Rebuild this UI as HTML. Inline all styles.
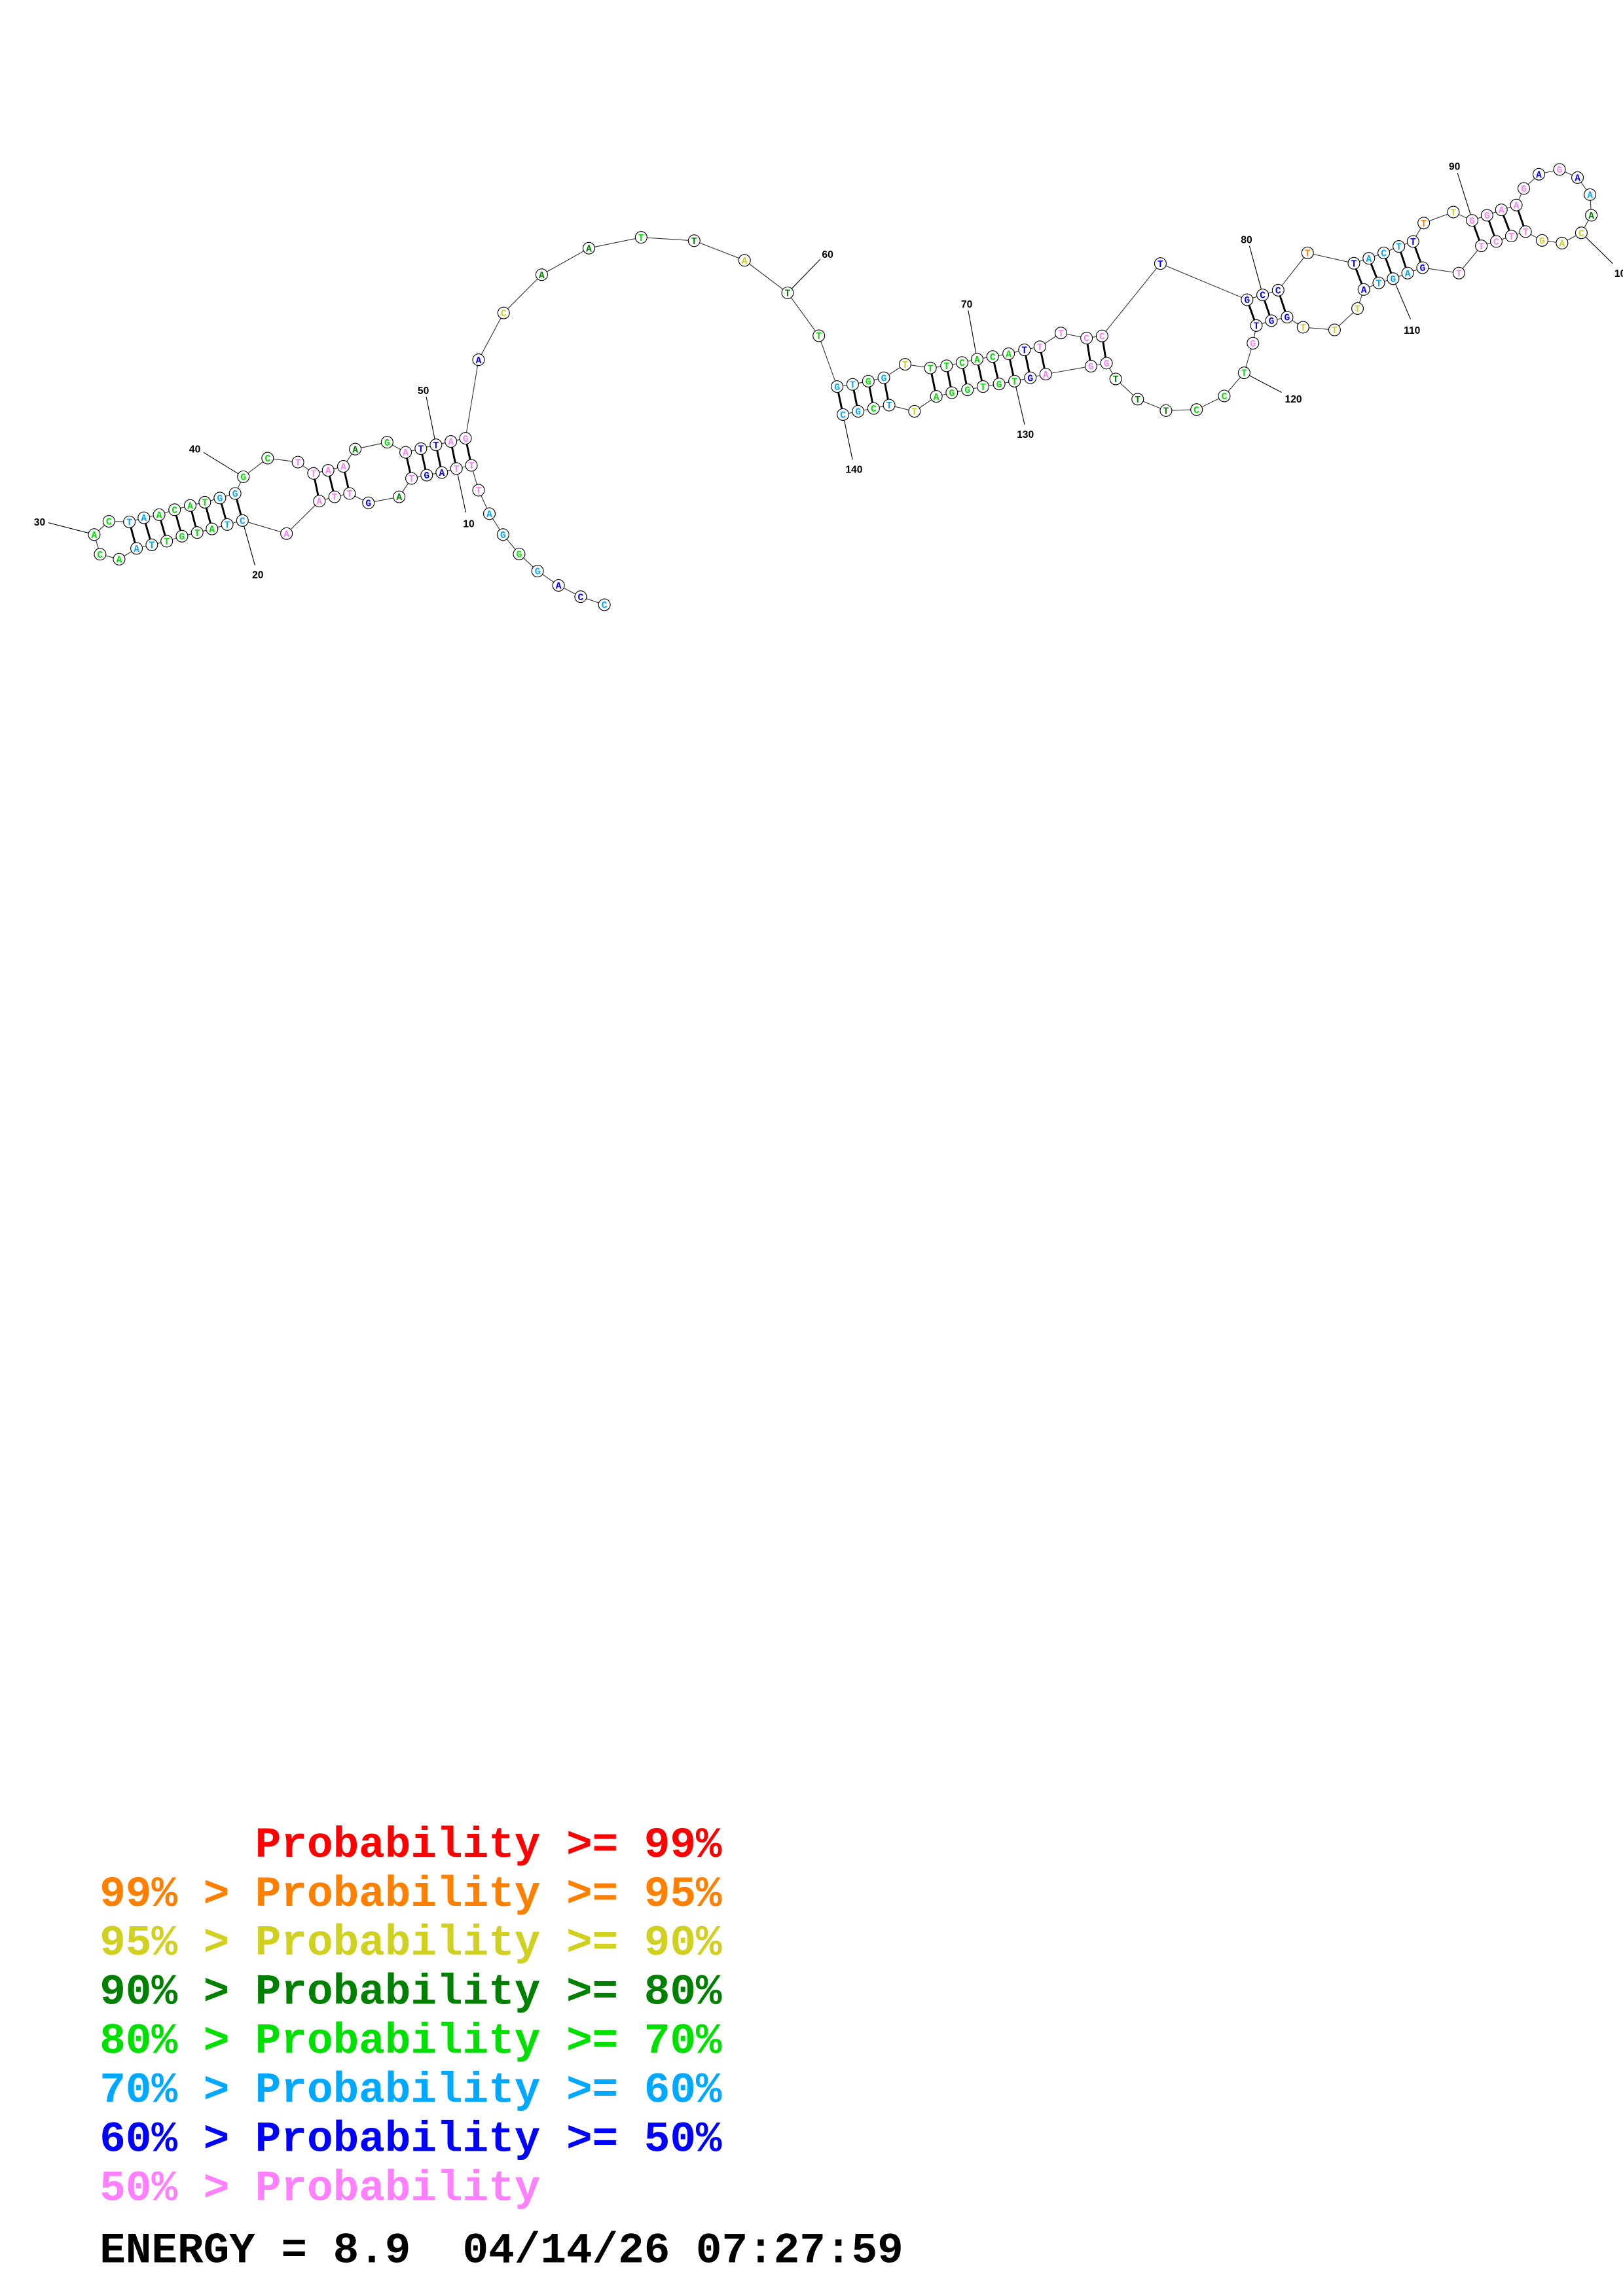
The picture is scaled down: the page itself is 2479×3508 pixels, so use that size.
<!DOCTYPE html>
<html><head><meta charset="utf-8"><style>
html,body{margin:0;padding:0;background:#fff;width:2479px;height:3508px;overflow:hidden}
svg{display:block}
.n circle{fill:#fff;stroke:#000;stroke-width:.5}
.n text{font-family:"Liberation Mono",monospace;font-weight:bold;font-size:6.5px;text-anchor:middle}
.bb{fill:none;stroke:#333;stroke-width:.5}
.pr line{stroke:#000;stroke-width:1.3}
.lb line{stroke:#000;stroke-width:.5}
.lb text{font-family:"Liberation Sans",sans-serif;font-weight:bold;font-size:7px;text-anchor:middle}
.r{fill:#ff0000}.o{fill:#ff8000}.y{fill:#d0d020}.d{fill:#008000}.g{fill:#00e000}.c{fill:#00a8ff}.b{fill:#0000ff}.p{fill:#ff80ff}
.lg{font-family:"Liberation Mono",monospace;font-weight:bold;font-size:29.5px;white-space:pre}
</style></head><body>
<svg width="2479" height="3508" viewBox="0 0 1108 1568" xmlns="http://www.w3.org/2000/svg">
<polyline class="bb" points="412.6,413 396.4,407.5 381.3,399.8 367,390 354.4,378.3 343.4,365.1 334.1,350.8 326.7,334.8 321.8,317.8 311.6,320 301.6,322.7 291.3,324.5 280.9,326.7 272.5,339.3 251.5,343.4 238.6,337 228.4,339.3 218,342.2 195.6,364.4 165.5,355.5 155.1,358.2 144.7,361.2 134.6,363.7 124.2,366.2 113.8,369.6 103.6,372.1 93.2,374.5 81.3,381.9 68.3,378.5 64.3,365.1 74.3,356 88.3,356.4 98.2,353.6 108.6,351.5 119.2,348.1 129.8,345.2 139.8,343 150.1,340.1 160.5,337 166.1,325.6 182.7,312.9 203.4,315.6 214,323.3 224,321.2 234.4,318.5 242.5,306.7 264.3,302 276.9,308.9 287.3,306.4 297.6,303.8 307.8,301.5 317.8,299.3 326.7,245.7 343.8,213.7 369.8,187.6 402,169.5 437.7,162.1 473.9,164.4 508.3,177.8 537.7,200 559,229.3 571.5,264 582.1,262.5 592.8,260.3 603.4,258 617.9,248.8 635.2,251.3 646.2,249.8 656.8,247.6 667.1,245.3 677.7,243.5 688.6,241.6 699.4,238.9 709.9,236.8 724.3,227.4 741.8,230.9 752.4,229.4 792.2,180 851.4,204.7 862,201.4 872.6,198.2 892.7,172.7 924.3,179.8 934.5,176.4 944.7,172.7 955,168.3 964.7,164.9 972,152.3 992.2,144.8 1005,150.5 1015.2,147 1025,143.3 1035.2,140 1040.3,128.7 1050.6,119 1064.7,115.7 1077,121.3 1085.5,132.9 1086.4,147 1079.6,159 1066.4,166 1052.8,164.2 1041.5,158.2 1031.8,161.2 1021.5,164.9 1011.3,167.9 996,186.5 971.2,182.8 961,186.5 951.1,190.3 941.3,193.2 931.1,197.7 926.8,210.7 911.1,225.3 889.6,223.5 878.7,216.6 868,219 857.7,222.3 855.4,234.4 849.4,254.6 835.8,270.4 816.9,279.7 796,280.4 776.7,272.6 761.7,258.8 755.4,248 744.8,250.1 713.9,255.5 703.4,258 692.6,260.3 682.1,262.2 671.1,264 660.5,266.2 649.8,268.2 639.2,270.7 624.3,280.9 607,276.7 596.4,278.9 585.8,280.9 575.5,283.1"/>
<g class="pr">
<line x1="276.9" y1="308.9" x2="280.9" y2="326.7"/><line x1="287.3" y1="306.4" x2="291.3" y2="324.5"/><line x1="297.6" y1="303.8" x2="301.6" y2="322.7"/><line x1="307.8" y1="301.5" x2="311.6" y2="320"/><line x1="317.8" y1="299.3" x2="321.8" y2="317.8"/>
<line x1="214" y1="323.3" x2="218" y2="342.2"/><line x1="224" y1="321.2" x2="228.4" y2="339.3"/><line x1="234.4" y1="318.5" x2="238.6" y2="337"/>
<line x1="88.3" y1="356.4" x2="93.2" y2="374.5"/><line x1="98.2" y1="353.6" x2="103.6" y2="372.1"/><line x1="108.6" y1="351.5" x2="113.8" y2="369.6"/><line x1="119.2" y1="348.1" x2="124.2" y2="366.2"/><line x1="129.8" y1="345.2" x2="134.6" y2="363.7"/><line x1="139.8" y1="343" x2="144.7" y2="361.2"/><line x1="150.1" y1="340.1" x2="155.1" y2="358.2"/><line x1="160.5" y1="337" x2="165.5" y2="355.5"/>
<line x1="571.5" y1="264" x2="575.5" y2="283.1"/><line x1="582.1" y1="262.5" x2="585.8" y2="280.9"/><line x1="592.8" y1="260.3" x2="596.4" y2="278.9"/><line x1="603.4" y1="258" x2="607" y2="276.7"/>
<line x1="635.2" y1="251.3" x2="639.2" y2="270.7"/><line x1="646.2" y1="249.8" x2="649.8" y2="268.2"/><line x1="656.8" y1="247.6" x2="660.5" y2="266.2"/><line x1="667.1" y1="245.3" x2="671.1" y2="264"/><line x1="677.7" y1="243.5" x2="682.1" y2="262.2"/><line x1="688.6" y1="241.6" x2="692.6" y2="260.3"/><line x1="699.4" y1="238.9" x2="703.4" y2="258"/><line x1="709.9" y1="236.8" x2="713.9" y2="255.5"/>
<line x1="741.8" y1="230.9" x2="744.8" y2="250.1"/><line x1="752.4" y1="229.4" x2="755.4" y2="248"/>
<line x1="851.4" y1="204.7" x2="857.7" y2="222.3"/><line x1="862" y1="201.4" x2="868" y2="219"/><line x1="872.6" y1="198.2" x2="878.7" y2="216.6"/>
<line x1="924.3" y1="179.8" x2="931.1" y2="197.7"/><line x1="934.5" y1="176.4" x2="941.3" y2="193.2"/><line x1="944.7" y1="172.7" x2="951.1" y2="190.3"/><line x1="955" y1="168.3" x2="961" y2="186.5"/><line x1="964.7" y1="164.9" x2="971.2" y2="182.8"/>
<line x1="1005" y1="150.5" x2="1011.3" y2="167.9"/><line x1="1015.2" y1="147" x2="1021.5" y2="164.9"/><line x1="1025" y1="143.3" x2="1031.8" y2="161.2"/><line x1="1035.2" y1="140" x2="1041.5" y2="158.2"/>
</g>
<g class="lb">
<line x1="311.6" y1="320" x2="318" y2="350"/><text x="320" y="360">10</text>
<line x1="165.5" y1="355.5" x2="174" y2="386"/><text x="176" y="395">20</text>
<line x1="64.3" y1="365" x2="33" y2="357"/><text x="27" y="359">30</text>
<line x1="166" y1="325.6" x2="139" y2="309"/><text x="133" y="309">40</text>
<line x1="297.6" y1="303.8" x2="291" y2="271"/><text x="289" y="269">50</text>
<line x1="537.7" y1="200" x2="560" y2="177"/><text x="565" y="176">60</text>
<line x1="667" y1="245" x2="661" y2="212"/><text x="660" y="210">70</text>
<line x1="862" y1="201" x2="853" y2="168"/><text x="851" y="166">80</text>
<line x1="1005" y1="150" x2="995" y2="118"/><text x="993" y="116">90</text>
<line x1="1079.6" y1="159" x2="1101" y2="180"/><text x="1108" y="189">100</text>
<line x1="951" y1="190" x2="963" y2="218"/><text x="964" y="228">110</text>
<line x1="849.4" y1="254.6" x2="875" y2="268"/><text x="883" y="275">120</text>
<line x1="692.6" y1="260" x2="699.5" y2="290"/><text x="700" y="299">130</text>
<line x1="575.5" y1="283" x2="582" y2="314"/><text x="583" y="323">140</text>
</g>
<g class="n">
<circle cx="412.6" cy="413" r="4"/><text x="412.6" y="415.3" class="c">C</text>
<circle cx="396.4" cy="407.5" r="4"/><text x="396.4" y="409.8" class="b">C</text>
<circle cx="381.3" cy="399.8" r="4"/><text x="381.3" y="402.1" class="b">A</text>
<circle cx="367" cy="390" r="4"/><text x="367" y="392.3" class="c">G</text>
<circle cx="354.4" cy="378.3" r="4"/><text x="354.4" y="380.6" class="g">G</text>
<circle cx="343.4" cy="365.1" r="4"/><text x="343.4" y="367.4" class="c">G</text>
<circle cx="334.1" cy="350.8" r="4"/><text x="334.1" y="353.1" class="c">A</text>
<circle cx="326.7" cy="334.8" r="4"/><text x="326.7" y="337.1" class="p">T</text>
<circle cx="321.8" cy="317.8" r="4"/><text x="321.8" y="320.1" class="p">T</text>
<circle cx="311.6" cy="320" r="4"/><text x="311.6" y="322.3" class="p">T</text>
<circle cx="301.6" cy="322.7" r="4"/><text x="301.6" y="325" class="b">A</text>
<circle cx="291.3" cy="324.5" r="4"/><text x="291.3" y="326.8" class="b">G</text>
<circle cx="280.9" cy="326.7" r="4"/><text x="280.9" y="329" class="p">T</text>
<circle cx="272.5" cy="339.3" r="4"/><text x="272.5" y="341.6" class="d">A</text>
<circle cx="251.5" cy="343.4" r="4"/><text x="251.5" y="345.7" class="b">G</text>
<circle cx="238.6" cy="337" r="4"/><text x="238.6" y="339.3" class="p">T</text>
<circle cx="228.4" cy="339.3" r="4"/><text x="228.4" y="341.6" class="p">T</text>
<circle cx="218" cy="342.2" r="4"/><text x="218" y="344.5" class="p">A</text>
<circle cx="195.6" cy="364.4" r="4"/><text x="195.6" y="366.7" class="p">A</text>
<circle cx="165.5" cy="355.5" r="4"/><text x="165.5" y="357.8" class="c">C</text>
<circle cx="155.1" cy="358.2" r="4"/><text x="155.1" y="360.5" class="c">T</text>
<circle cx="144.7" cy="361.2" r="4"/><text x="144.7" y="363.5" class="g">A</text>
<circle cx="134.6" cy="363.7" r="4"/><text x="134.6" y="366" class="g">T</text>
<circle cx="124.2" cy="366.2" r="4"/><text x="124.2" y="368.5" class="g">G</text>
<circle cx="113.8" cy="369.6" r="4"/><text x="113.8" y="371.9" class="g">T</text>
<circle cx="103.6" cy="372.1" r="4"/><text x="103.6" y="374.4" class="c">T</text>
<circle cx="93.2" cy="374.5" r="4"/><text x="93.2" y="376.8" class="c">A</text>
<circle cx="81.3" cy="381.9" r="4"/><text x="81.3" y="384.2" class="g">A</text>
<circle cx="68.3" cy="378.5" r="4"/><text x="68.3" y="380.8" class="g">C</text>
<circle cx="64.3" cy="365.1" r="4"/><text x="64.3" y="367.4" class="g">A</text>
<circle cx="74.3" cy="356" r="4"/><text x="74.3" y="358.3" class="g">C</text>
<circle cx="88.3" cy="356.4" r="4"/><text x="88.3" y="358.7" class="c">T</text>
<circle cx="98.2" cy="353.6" r="4"/><text x="98.2" y="355.9" class="c">A</text>
<circle cx="108.6" cy="351.5" r="4"/><text x="108.6" y="353.8" class="g">A</text>
<circle cx="119.2" cy="348.1" r="4"/><text x="119.2" y="350.4" class="g">C</text>
<circle cx="129.8" cy="345.2" r="4"/><text x="129.8" y="347.5" class="g">A</text>
<circle cx="139.8" cy="343" r="4"/><text x="139.8" y="345.3" class="g">T</text>
<circle cx="150.1" cy="340.1" r="4"/><text x="150.1" y="342.4" class="c">G</text>
<circle cx="160.5" cy="337" r="4"/><text x="160.5" y="339.3" class="c">G</text>
<circle cx="166.1" cy="325.6" r="4"/><text x="166.1" y="327.9" class="g">G</text>
<circle cx="182.7" cy="312.9" r="4"/><text x="182.7" y="315.2" class="g">C</text>
<circle cx="203.4" cy="315.6" r="4"/><text x="203.4" y="317.9" class="p">T</text>
<circle cx="214" cy="323.3" r="4"/><text x="214" y="325.6" class="p">T</text>
<circle cx="224" cy="321.2" r="4"/><text x="224" y="323.5" class="p">A</text>
<circle cx="234.4" cy="318.5" r="4"/><text x="234.4" y="320.8" class="p">A</text>
<circle cx="242.5" cy="306.7" r="4"/><text x="242.5" y="309" class="d">A</text>
<circle cx="264.3" cy="302" r="4"/><text x="264.3" y="304.3" class="g">G</text>
<circle cx="276.9" cy="308.9" r="4"/><text x="276.9" y="311.2" class="p">A</text>
<circle cx="287.3" cy="306.4" r="4"/><text x="287.3" y="308.7" class="b">T</text>
<circle cx="297.6" cy="303.8" r="4"/><text x="297.6" y="306.1" class="b">T</text>
<circle cx="307.8" cy="301.5" r="4"/><text x="307.8" y="303.8" class="p">A</text>
<circle cx="317.8" cy="299.3" r="4"/><text x="317.8" y="301.6" class="p">G</text>
<circle cx="326.7" cy="245.7" r="4"/><text x="326.7" y="248" class="b">A</text>
<circle cx="343.8" cy="213.7" r="4"/><text x="343.8" y="216" class="y">C</text>
<circle cx="369.8" cy="187.6" r="4"/><text x="369.8" y="189.9" class="d">A</text>
<circle cx="402" cy="169.5" r="4"/><text x="402" y="171.8" class="d">A</text>
<circle cx="437.7" cy="162.1" r="4"/><text x="437.7" y="164.4" class="g">T</text>
<circle cx="473.9" cy="164.4" r="4"/><text x="473.9" y="166.7" class="d">T</text>
<circle cx="508.3" cy="177.8" r="4"/><text x="508.3" y="180.1" class="y">A</text>
<circle cx="537.7" cy="200" r="4"/><text x="537.7" y="202.3" class="d">T</text>
<circle cx="559" cy="229.3" r="4"/><text x="559" y="231.6" class="g">T</text>
<circle cx="571.5" cy="264" r="4"/><text x="571.5" y="266.3" class="c">G</text>
<circle cx="582.1" cy="262.5" r="4"/><text x="582.1" y="264.8" class="c">T</text>
<circle cx="592.8" cy="260.3" r="4"/><text x="592.8" y="262.6" class="g">G</text>
<circle cx="603.4" cy="258" r="4"/><text x="603.4" y="260.3" class="c">G</text>
<circle cx="617.9" cy="248.8" r="4"/><text x="617.9" y="251.1" class="y">T</text>
<circle cx="635.2" cy="251.3" r="4"/><text x="635.2" y="253.6" class="g">T</text>
<circle cx="646.2" cy="249.8" r="4"/><text x="646.2" y="252.1" class="g">T</text>
<circle cx="656.8" cy="247.6" r="4"/><text x="656.8" y="249.9" class="g">C</text>
<circle cx="667.1" cy="245.3" r="4"/><text x="667.1" y="247.6" class="g">A</text>
<circle cx="677.7" cy="243.5" r="4"/><text x="677.7" y="245.8" class="g">C</text>
<circle cx="688.6" cy="241.6" r="4"/><text x="688.6" y="243.9" class="g">A</text>
<circle cx="699.4" cy="238.9" r="4"/><text x="699.4" y="241.2" class="b">T</text>
<circle cx="709.9" cy="236.8" r="4"/><text x="709.9" y="239.1" class="p">T</text>
<circle cx="724.3" cy="227.4" r="4"/><text x="724.3" y="229.7" class="p">T</text>
<circle cx="741.8" cy="230.9" r="4"/><text x="741.8" y="233.2" class="p">C</text>
<circle cx="752.4" cy="229.4" r="4"/><text x="752.4" y="231.7" class="p">C</text>
<circle cx="792.2" cy="180" r="4"/><text x="792.2" y="182.3" class="b">T</text>
<circle cx="851.4" cy="204.7" r="4"/><text x="851.4" y="207" class="b">G</text>
<circle cx="862" cy="201.4" r="4"/><text x="862" y="203.7" class="b">C</text>
<circle cx="872.6" cy="198.2" r="4"/><text x="872.6" y="200.5" class="b">C</text>
<circle cx="892.7" cy="172.7" r="4"/><text x="892.7" y="175" class="o">T</text>
<circle cx="924.3" cy="179.8" r="4"/><text x="924.3" y="182.1" class="b">T</text>
<circle cx="934.5" cy="176.4" r="4"/><text x="934.5" y="178.7" class="c">A</text>
<circle cx="944.7" cy="172.7" r="4"/><text x="944.7" y="175" class="c">C</text>
<circle cx="955" cy="168.3" r="4"/><text x="955" y="170.6" class="c">T</text>
<circle cx="964.7" cy="164.9" r="4"/><text x="964.7" y="167.2" class="b">T</text>
<circle cx="972" cy="152.3" r="4"/><text x="972" y="154.6" class="o">T</text>
<circle cx="992.2" cy="144.8" r="4"/><text x="992.2" y="147.1" class="y">T</text>
<circle cx="1005" cy="150.5" r="4"/><text x="1005" y="152.8" class="p">G</text>
<circle cx="1015.2" cy="147" r="4"/><text x="1015.2" y="149.3" class="p">G</text>
<circle cx="1025" cy="143.3" r="4"/><text x="1025" y="145.6" class="p">A</text>
<circle cx="1035.2" cy="140" r="4"/><text x="1035.2" y="142.3" class="p">A</text>
<circle cx="1040.3" cy="128.7" r="4"/><text x="1040.3" y="131" class="p">G</text>
<circle cx="1050.6" cy="119" r="4"/><text x="1050.6" y="121.3" class="b">A</text>
<circle cx="1064.7" cy="115.7" r="4"/><text x="1064.7" y="118" class="p">G</text>
<circle cx="1077" cy="121.3" r="4"/><text x="1077" y="123.6" class="b">A</text>
<circle cx="1085.5" cy="132.9" r="4"/><text x="1085.5" y="135.2" class="c">A</text>
<circle cx="1086.4" cy="147" r="4"/><text x="1086.4" y="149.3" class="d">A</text>
<circle cx="1079.6" cy="159" r="4"/><text x="1079.6" y="161.3" class="y">C</text>
<circle cx="1066.4" cy="166" r="4"/><text x="1066.4" y="168.3" class="y">A</text>
<circle cx="1052.8" cy="164.2" r="4"/><text x="1052.8" y="166.5" class="y">G</text>
<circle cx="1041.5" cy="158.2" r="4"/><text x="1041.5" y="160.5" class="p">T</text>
<circle cx="1031.8" cy="161.2" r="4"/><text x="1031.8" y="163.5" class="p">T</text>
<circle cx="1021.5" cy="164.9" r="4"/><text x="1021.5" y="167.2" class="p">C</text>
<circle cx="1011.3" cy="167.9" r="4"/><text x="1011.3" y="170.2" class="p">T</text>
<circle cx="996" cy="186.5" r="4"/><text x="996" y="188.8" class="p">T</text>
<circle cx="971.2" cy="182.8" r="4"/><text x="971.2" y="185.1" class="b">G</text>
<circle cx="961" cy="186.5" r="4"/><text x="961" y="188.8" class="c">A</text>
<circle cx="951.1" cy="190.3" r="4"/><text x="951.1" y="192.6" class="c">G</text>
<circle cx="941.3" cy="193.2" r="4"/><text x="941.3" y="195.5" class="c">T</text>
<circle cx="931.1" cy="197.7" r="4"/><text x="931.1" y="200" class="b">A</text>
<circle cx="926.8" cy="210.7" r="4"/><text x="926.8" y="213" class="y">T</text>
<circle cx="911.1" cy="225.3" r="4"/><text x="911.1" y="227.6" class="y">T</text>
<circle cx="889.6" cy="223.5" r="4"/><text x="889.6" y="225.8" class="y">T</text>
<circle cx="878.7" cy="216.6" r="4"/><text x="878.7" y="218.9" class="b">G</text>
<circle cx="868" cy="219" r="4"/><text x="868" y="221.3" class="b">G</text>
<circle cx="857.7" cy="222.3" r="4"/><text x="857.7" y="224.6" class="b">T</text>
<circle cx="855.4" cy="234.4" r="4"/><text x="855.4" y="236.7" class="p">G</text>
<circle cx="849.4" cy="254.6" r="4"/><text x="849.4" y="256.9" class="g">T</text>
<circle cx="835.8" cy="270.4" r="4"/><text x="835.8" y="272.7" class="g">C</text>
<circle cx="816.9" cy="279.7" r="4"/><text x="816.9" y="282" class="g">C</text>
<circle cx="796" cy="280.4" r="4"/><text x="796" y="282.7" class="d">T</text>
<circle cx="776.7" cy="272.6" r="4"/><text x="776.7" y="274.9" class="d">T</text>
<circle cx="761.7" cy="258.8" r="4"/><text x="761.7" y="261.1" class="d">T</text>
<circle cx="755.4" cy="248" r="4"/><text x="755.4" y="250.3" class="p">G</text>
<circle cx="744.8" cy="250.1" r="4"/><text x="744.8" y="252.4" class="p">G</text>
<circle cx="713.9" cy="255.5" r="4"/><text x="713.9" y="257.8" class="p">A</text>
<circle cx="703.4" cy="258" r="4"/><text x="703.4" y="260.3" class="b">G</text>
<circle cx="692.6" cy="260.3" r="4"/><text x="692.6" y="262.6" class="g">T</text>
<circle cx="682.1" cy="262.2" r="4"/><text x="682.1" y="264.5" class="g">G</text>
<circle cx="671.1" cy="264" r="4"/><text x="671.1" y="266.3" class="g">T</text>
<circle cx="660.5" cy="266.2" r="4"/><text x="660.5" y="268.5" class="g">G</text>
<circle cx="649.8" cy="268.2" r="4"/><text x="649.8" y="270.5" class="g">G</text>
<circle cx="639.2" cy="270.7" r="4"/><text x="639.2" y="273" class="g">A</text>
<circle cx="624.3" cy="280.9" r="4"/><text x="624.3" y="283.2" class="y">T</text>
<circle cx="607" cy="276.7" r="4"/><text x="607" y="279" class="c">T</text>
<circle cx="596.4" cy="278.9" r="4"/><text x="596.4" y="281.2" class="g">C</text>
<circle cx="585.8" cy="280.9" r="4"/><text x="585.8" y="283.2" class="c">G</text>
<circle cx="575.5" cy="283.1" r="4"/><text x="575.5" y="285.4" class="c">C</text>
</g>
<g class="lg" xml:space="preserve">
<text x="68" y="1268" class="r" xml:space="preserve">      Probability &gt;= 99%</text>
<text x="68" y="1301.5" class="o">99% &gt; Probability &gt;= 95%</text>
<text x="68" y="1335" class="y">95% &gt; Probability &gt;= 90%</text>
<text x="68" y="1368.5" class="d">90% &gt; Probability &gt;= 80%</text>
<text x="68" y="1402" class="g">80% &gt; Probability &gt;= 70%</text>
<text x="68" y="1435.5" class="c">70% &gt; Probability &gt;= 60%</text>
<text x="68" y="1469" class="b">60% &gt; Probability &gt;= 50%</text>
<text x="68" y="1502.5" class="p">50% &gt; Probability</text>
<text x="68" y="1545" fill="#000" xml:space="preserve">ENERGY = 8.9  04/14/26 07:27:59</text>
</g>
</svg>
</body></html>
